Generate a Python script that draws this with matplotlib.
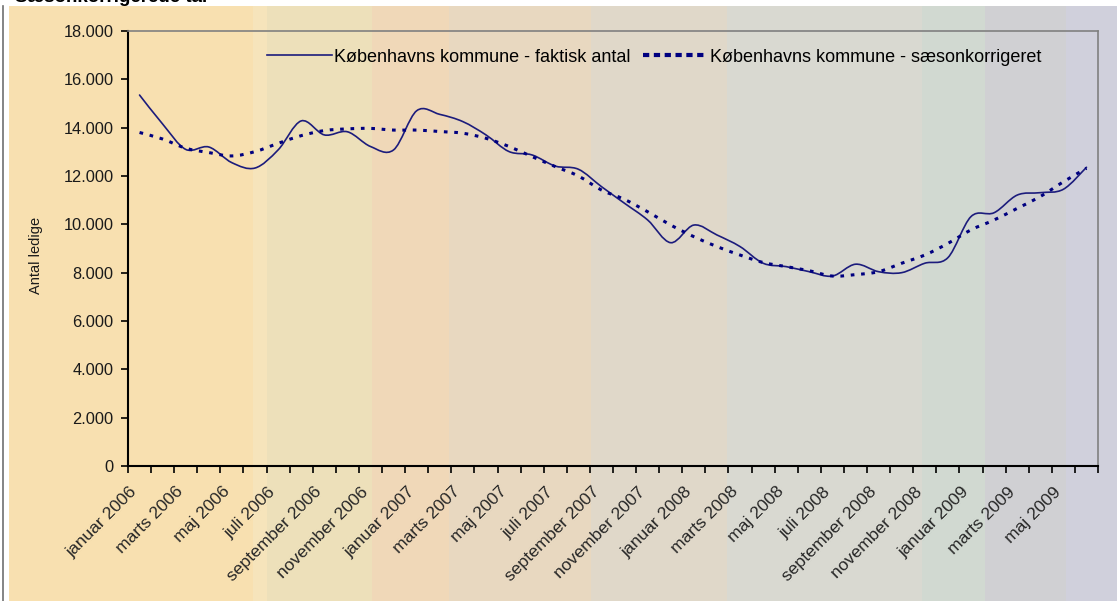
import numpy as np
import matplotlib.pyplot as plt
from matplotlib.path import Path
from matplotlib.patches import PathPatch
from matplotlib.lines import Line2D
from matplotlib.ticker import FuncFormatter
from matplotlib.transforms import ScaledTranslation

plt.rcParams['font.family'] = ['Liberation Sans', 'DejaVu Sans']

# data (Jan 2006 - Jun 2009)
maaneder = ['januar', 'februar', 'marts', 'april', 'maj', 'juni', 'juli', 'august',
            'september', 'oktober', 'november', 'december']
aar = [2006, 2007, 2008, 2009]
kategorier = [f"{m} {a}" for a in aar for m in maaneder][:42]

faktisk = [15350, 14150, 13100, 13200, 12550, 12330, 13080, 14280, 13700, 13830, 13220, 13080,
           14700, 14550, 14250, 13700, 13010, 12870, 12410, 12280, 11560, 10870, 10180, 9240,
           9970, 9560, 9080, 8390, 8250, 8040, 7860, 8350, 8040, 8000, 8390, 8620,
           10320, 10480, 11210, 11310, 11450, 12360]

saeson = [13800, 13530, 13150, 12970, 12830, 13010, 13350, 13670, 13880, 13950, 13970, 13900,
          13900, 13840, 13770, 13560, 13220, 12800, 12390, 12000, 11420, 11030, 10520, 9970,
          9490, 9080, 8730, 8420, 8250, 8080, 7860, 7920, 8040, 8390, 8730, 9210,
          9770, 10180, 10660, 11150, 11760, 12320]

# vertical colour bands of the background (pixel edges, colour)
baand = [(9, 253, '#f8e0b0'), (253, 267, '#f6e4bb'), (267, 372, '#ede0ba'),
         (372, 449, '#f0d8b8'), (449, 591, '#e8d8c0'), (591, 727, '#e0d8c9'),
         (727, 922, '#d9d9d1'), (922, 985, '#d1d9d1'), (985, 1066, '#d0d0d3'),
         (1066, 1117, '#d0d0dc')]

W, H = 1117, 601
fig = plt.figure(figsize=(W / 100, H / 100), dpi=100)
fig.patch.set_facecolor('white')

bg = fig.add_axes([0, 0, 1, 1])
bg.set_xlim(0, W)
bg.set_ylim(H, 0)
bg.axis('off')
for x0, x1, c in baand:
    bg.axvspan(x0, x1, ymin=0, ymax=(H - 6) / H, color=c, lw=0)
bg.plot([3, 3], [6, H], color='#707070', lw=1.2)
bg.text(15, 1.5, 'Sæsonkorrigerede tal', fontsize=13.5, fontweight='bold', va='baseline')


def glat(ax, x, y, **kw):
    # Excel-like smoothed line: Catmull-Rom style cubic Bezier through the points
    x = np.asarray(x, float)
    y = np.asarray(y, float)
    pts = np.column_stack([x, y])
    verts = [pts[0]]
    codes = [Path.MOVETO]
    n = len(pts)
    for i in range(n - 1):
        p0 = pts[max(i - 1, 0)]
        p1 = pts[i]
        p2 = pts[i + 1]
        p3 = pts[min(i + 2, n - 1)]
        verts += [p1 + (p2 - p0) / 6, p2 - (p3 - p1) / 6, p2]
        codes += [Path.CURVE4] * 3
    ax.add_patch(PathPatch(Path(verts, codes), fill=False, **kw))


ax = fig.add_axes([128 / W, 1 - 466 / H, (1098 - 128) / W, (466 - 31) / H])
ax.patch.set_alpha(0)

x = np.arange(len(kategorier))
farve = '#1c1c7c'
glat(ax, x, faktisk, edgecolor=farve, lw=1.2, capstyle='round')
glat(ax, x, saeson, edgecolor='#000080', lw=2.2, linestyle=(0, (1.2, 2.2)))

ax.set_xlim(-0.5, len(kategorier) - 0.5)
ax.set_ylim(0, 18000)
ax.set_yticks(np.arange(0, 18001, 2000))
ax.yaxis.set_major_formatter(FuncFormatter(lambda v, p: f"{int(v):,}".replace(',', '.')))
ax.tick_params(axis='y', direction='out', length=5, width=1.2, labelsize=11.8, pad=5.5,
               labelcolor='#1a1a1a')

ax.set_xticks(x[::2])
ax.set_xticklabels(kategorier[::2], rotation=45, ha='right', va='top',
                   rotation_mode='anchor', fontsize=12.6, color='#262626')
ax.tick_params(axis='x', which='major', length=0, pad=13)
skub = ScaledTranslation(-10 / 100, 0, fig.dpi_scale_trans)
for lab in ax.get_xticklabels():
    lab.set_transform(lab.get_transform() + skub)
ax.set_xticks(np.arange(-0.5, len(kategorier)), minor=True)
ax.tick_params(axis='x', which='minor', direction='out', length=5, width=1.2)

for s in ['left', 'bottom']:
    ax.spines[s].set_linewidth(1.5)
    ax.spines[s].set_color('black')
for s in ['top', 'right']:
    ax.spines[s].set_linewidth(1.2)
    ax.spines[s].set_color('#808080')

ax.set_ylabel('Antal ledige', fontsize=10.5, color='#1a1a1a')
ax.yaxis.set_label_coords((43 - 128) / 970, (466 - 255) / 435)

handles = [Line2D([], [], color=farve, lw=1.2),
           Line2D([], [], color='#000080', lw=3, linestyle=(0, (1.5, 1.1)))]
ax.legend(handles, ['Københavns kommune - faktisk antal', 'Københavns kommune - sæsonkorrigeret'],
          loc='center left', bbox_to_anchor=((267 - 128) / 970, (466 - 57) / 435),
          ncol=2, frameon=False, fontsize=13.0, handlelength=3.6, handletextpad=0.12,
          columnspacing=0.7, borderaxespad=0, borderpad=0)

plt.savefig('out.png', dpi=100)
